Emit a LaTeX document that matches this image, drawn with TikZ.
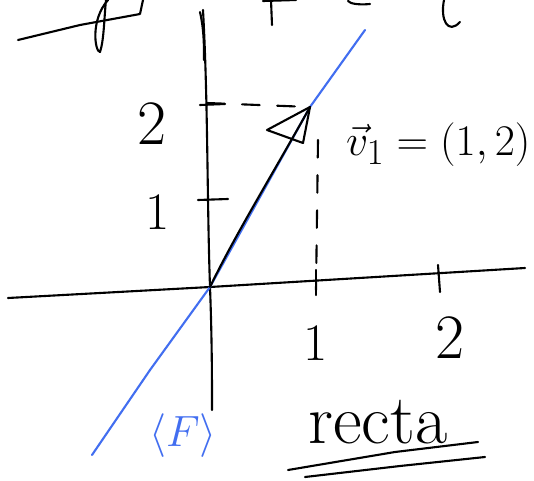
\documentclass[tikz,border=0pt]{standalone}
\usepackage{tikz}
\usetikzlibrary{arrows.meta,calc}
\definecolor{penblue}{RGB}{66,110,240}

\begin{document}
\begin{tikzpicture}[x=0.02cm,y=-0.02cm, line cap=round, line join=round,
    every node/.style={font=\fontsize{30}{30}\selectfont},
    pen/.style={black, line width=1.2pt},
    bluepen/.style={penblue, line width=1.2pt},
    tickmark/.style={pen}]
  \useasboundingbox (0,0) rectangle (534,480);
  % cut-off writing at the top
  \draw[pen] (18,40) -- (80,25) -- (140,14) -- (143,0);
  \draw[pen] (108,0) .. controls (90,20) and (95,52) .. (100,52) .. controls (104,40) and (104,20) .. (106,0);
  \draw[pen] (200,12) .. controls (204,30) and (204,45) .. (204,60);
  \draw[pen] (271,0) -- (272,25);
  \draw[pen] (263,1) -- (296,0);
  \draw[pen] (348,1) .. controls (350,4) and (360,5) .. (370,4);
  \draw[pen] (444,0) .. controls (440,20) and (448,35) .. (460,22);
  % axes
  \coordinate (O) at (210,287);
  \draw[pen] (8,298) -- (O) -- (525,268);
  \draw[pen] (203,10) .. controls (208,100) and (207,200) .. (O) .. controls (212,340) and (212,380) .. (212,410);
  % ticks
  \draw[tickmark] (200,105) -- (225,104);
  \draw[tickmark] (198,200) -- (228,199);
  \draw[tickmark] (316,270) -- (316,295);
  \draw[tickmark] (438,265) -- (440,292);
  \node (y2) at (152,124) {\fontsize{36}{36}\selectfont 2};
  \node (y1) at (158,212) {1};
  \node (x1) at (316,343) {1};
  \node (x2) at (450,338) {\fontsize{36}{36}\selectfont 2};
  % dashed guides
  \coordinate (P) at (310,107);
  \draw[pen, dash pattern=on 10pt off 10pt] (207,103) -- (P);
  \draw[pen, dash pattern=on 10pt off 10pt] (318,140) -- (316,290);
  % the line
  \draw[bluepen] (92,455) -- (150,370) -- (O) -- (P) -- (365,30);
  % the vector
  \draw[pen] (O) .. controls (235,235) and (275,170) .. (P);
  \draw[pen] (267,130) -- (P) -- (303,143) -- cycle;
  \node[anchor=west] (v1) at (340,145) {$\vec{v}_1=(1,2)$};
  % span and name
  \node[text=penblue] (span) at (183,436) {\fontsize{40}{40}\selectfont$\langle F\rangle$};
  \node (recta) at (378,422) {\fontsize{40}{40}\selectfont recta};
  \draw[pen] (288,470) -- (395,452) -- (478,442);
  \draw[pen] (305,477) -- (400,466) -- (485,457);
\end{tikzpicture}
\end{document}
